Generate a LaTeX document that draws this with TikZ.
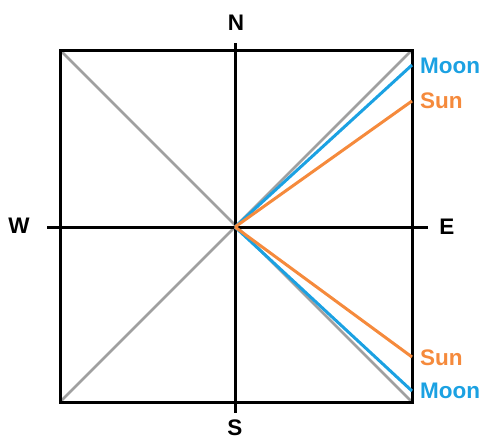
\documentclass[tikz,border=0pt]{standalone}
\usepackage{fontspec}
\setmainfont{Liberation Sans}
\definecolor{moonblue}{RGB}{27,161,226}
\definecolor{sunorange}{RGB}{245,138,60}
\definecolor{diaggray}{RGB}{160,160,160}
\begin{document}
\begin{tikzpicture}[x=1pt,y=-1pt,
  frame/.style={draw=black,line width=3pt},
  diag/.style={draw=diaggray,line width=2.5pt},
  moonline/.style={draw=moonblue,line width=3pt},
  sunline/.style={draw=sunorange,line width=3pt},
  lbl/.style={font=\fontsize{22.5}{27}\selectfont\bfseries,inner sep=0pt},
  moonlbl/.style={lbl,text=moonblue,anchor=west},
  sunlbl/.style={lbl,text=sunorange,anchor=west}]
\useasboundingbox (0,0) rectangle (483,439);
\coordinate (C) at (235,227);
\coordinate (TL) at (60,50);
\coordinate (TR) at (412,50);
\coordinate (BL) at (60,402);
\coordinate (BR) at (412,402);
\coordinate (Ntop) at (235,43);
\coordinate (Sbot) at (235,413);
\coordinate (Wend) at (47,227);
\coordinate (Eend) at (428,227);
\coordinate (MoonU) at (412,65);
\coordinate (SunU) at (412,101);
\coordinate (SunL) at (412,357);
\coordinate (MoonL) at (412,391);
% diagonals
\draw[diag] (TL) -- (BR);
\draw[diag] (BL) -- (TR);
% frame and axes
\draw[frame] (TL) rectangle (BR);
\draw[frame] (Ntop) -- (Sbot);
\draw[frame] (Wend) -- (Eend);
% moon and sun lines
\draw[moonline] (C) -- (MoonU);
\draw[moonline] (C) -- (MoonL);
\draw[sunline] (C) -- (SunU);
\draw[sunline] (C) -- (SunL);
% labels
\node[lbl] (N) at (236,22.5) {N};
\node[lbl] (S) at (235,428) {S};
\node[lbl] (W) at (19,226) {W};
\node[lbl] (E) at (447,227) {E};
\node[moonlbl] (moonU) at (420,65.5) {Moon};
\node[sunlbl] (sunU) at (420,101) {Sun};
\node[sunlbl] (sunL) at (420,358) {Sun};
\node[moonlbl] (moonL) at (420,390.5) {Moon};
\end{tikzpicture}
\end{document}
